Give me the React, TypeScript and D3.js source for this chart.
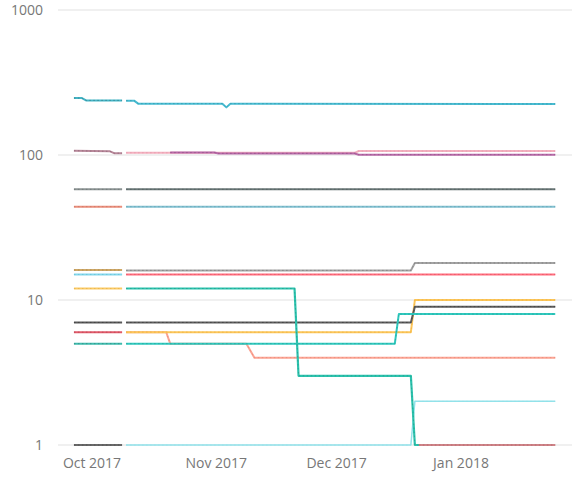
import React from "react";
import * as d3 from "d3";

type Pt = [string, number];

// y axis ticks (log scale) and x axis month ticks
const yTicks = [1, 10, 100, 1000];
const monthTicks = ["2017-10-01", "2017-11-01", "2017-12-01", "2018-01-01"];
const monthLabels = ["Oct 2017", "Nov 2017", "Dec 2017", "Jan 2018"];

// first block of series (late Sep -> Oct 8)
const tealA: Pt[] = [["2017-09-26", 247], ["2017-09-28", 247], ["2017-09-29", 238], ["2017-10-08", 238]];
const mauveA: Pt[] = [["2017-09-26", 107], ["2017-10-05", 106], ["2017-10-06", 103], ["2017-10-08", 103]];
const grayA: Pt[] = [["2017-09-26", 58], ["2017-10-08", 58]];
const salmonA: Pt[] = [["2017-09-26", 44], ["2017-10-08", 44]];
const goldA: Pt[] = [["2017-09-26", 16.1], ["2017-10-08", 16.1]];
const cyanA: Pt[] = [["2017-09-26", 15], ["2017-10-08", 15]];
const yellowA: Pt[] = [["2017-09-26", 12], ["2017-10-08", 12]];
const darkA: Pt[] = [["2017-09-26", 7], ["2017-10-08", 7]];
const redA: Pt[] = [["2017-09-26", 6], ["2017-10-08", 6]];
const greenA: Pt[] = [["2017-09-26", 5], ["2017-10-08", 5]];
const oneA: Pt[] = [["2017-09-26", 1], ["2017-10-08", 1]];

// second block (Oct 9 -> Jan 24)
const tealB: Pt[] = [
  ["2017-10-09", 237], ["2017-10-11", 237], ["2017-10-12", 226], ["2017-11-02", 226],
  ["2017-11-03", 213], ["2017-11-04", 226], ["2018-01-24", 225],
];
const pinkB: Pt[] = [["2017-10-09", 103.5], ["2017-12-05", 103.5], ["2017-12-06", 106.5], ["2018-01-24", 106.5]];
const purpleB: Pt[] = [
  ["2017-10-20", 104], ["2017-10-31", 104], ["2017-11-01", 102.5], ["2017-12-05", 102.5],
  ["2017-12-06", 100.5], ["2018-01-24", 100.5],
];
const grayB: Pt[] = [["2017-10-09", 58], ["2018-01-24", 58]];
const steelB: Pt[] = [["2017-10-09", 44], ["2018-01-24", 44]];
const silverB: Pt[] = [["2017-10-09", 16], ["2017-12-19", 16], ["2017-12-20", 18], ["2018-01-24", 18]];
const redB: Pt[] = [["2017-10-09", 15], ["2018-01-24", 15]];
const darkB: Pt[] = [["2017-10-09", 7], ["2017-12-19", 7], ["2017-12-20", 9], ["2018-01-24", 9]];
const yellowB: Pt[] = [["2017-10-09", 6], ["2017-12-19", 6], ["2017-12-20", 10], ["2018-01-24", 10]];
const salmonB: Pt[] = [
  ["2017-10-09", 6], ["2017-10-19", 6], ["2017-10-20", 5], ["2017-11-08", 5],
  ["2017-11-10", 4], ["2018-01-24", 4],
];
const greenB: Pt[] = [["2017-10-09", 5], ["2017-12-15", 5], ["2017-12-16", 8], ["2018-01-24", 8]];
const cyanB: Pt[] = [["2017-10-09", 1], ["2017-12-19", 1], ["2017-12-20", 2], ["2018-01-24", 2]];
const tealDrop: Pt[] = [
  ["2017-10-09", 12], ["2017-11-20", 12], ["2017-11-21", 3], ["2017-12-19", 3],
  ["2017-12-20", 1], ["2017-12-21", 1],
];
const brownB: Pt[] = [["2017-12-21", 1], ["2018-01-24", 1]];

// drawing order + styles
const seriesList: { data: Pt[]; color: string; dot: string; w: number }[] = [
  { data: oneA, color: "#6a6a6a", dot: "#444", w: 2 },
  { data: cyanB, color: "#92e2ea", dot: "#92e2ea", w: 1.5 },
  { data: brownB, color: "#cf8488", dot: "#a85a60", w: 2 },
  { data: greenA, color: "#3fbcae", dot: "#2a7c72", w: 2 },
  { data: redA, color: "#e25a6a", dot: "#a83a48", w: 2 },
  { data: darkA, color: "#5a5a5a", dot: "#333", w: 2 },
  { data: yellowA, color: "#fbcb66", dot: "#e0a840", w: 2 },
  { data: cyanA, color: "#86d8ec", dot: "#5ab8d0", w: 2 },
  { data: goldA, color: "#cfa868", dot: "#9a7a40", w: 2 },
  { data: salmonA, color: "#ea8f7c", dot: "#c06a58", w: 2 },
  { data: grayA, color: "#8c9494", dot: "#606868", w: 2 },
  { data: mauveA, color: "#b8889a", dot: "#805868", w: 2 },
  { data: tealA, color: "#45b5c6", dot: "#2a6f7a", w: 2 },
  { data: salmonB, color: "#fca595", dot: "#e07c6c", w: 2 },
  { data: yellowB, color: "#fcc65a", dot: "#e8a838", w: 2 },
  { data: darkB, color: "#5e5e5e", dot: "#333", w: 2 },
  { data: greenB, color: "#30c9be", dot: "#1f9a90", w: 2 },
  { data: redB, color: "#ff6e7e", dot: "#e04c5c", w: 2 },
  { data: silverB, color: "#a4a4a4", dot: "#6e6e6e", w: 2 },
  { data: steelB, color: "#82c0d0", dot: "#5a9aac", w: 2 },
  { data: grayB, color: "#687676", dot: "#485454", w: 2 },
  { data: pinkB, color: "#f3b0bf", dot: "#e090a4", w: 2 },
  { data: purpleB, color: "#b86aa8", dot: "#8a4a80", w: 2 },
  { data: tealB, color: "#48bcd2", dot: "#2a8a9c", w: 2 },
  { data: tealDrop, color: "#2cc3ae", dot: "#1e8f80", w: 2.2 },
];

const W = 578;
const H = 477;

export default function App() {
  const ref = React.useRef<SVGSVGElement>(null);

  React.useEffect(() => {
    const svg = d3.select(ref.current);
    svg.selectAll("*").remove();

    const parse = d3.timeParse("%Y-%m-%d");
    const x = d3
      .scaleTime()
      .domain([parse("2017-10-01")!, parse("2018-01-01")!])
      .range([94, 463]);
    const y = d3.scaleLog().domain([1, 1000]).range([445, 10]);

    // gridlines
    svg
      .append("g")
      .selectAll("line")
      .data(yTicks)
      .join("line")
      .attr("x1", 58)
      .attr("x2", 572)
      .attr("y1", (d) => y(d))
      .attr("y2", (d) => y(d))
      .attr("stroke", "#ebebeb")
      .attr("stroke-width", 1.5);

    // y labels
    svg
      .append("g")
      .selectAll("text")
      .data(yTicks)
      .join("text")
      .attr("x", 43)
      .attr("y", (d) => y(d))
      .attr("dy", "0.35em")
      .attr("text-anchor", "end")
      .attr("fill", "#777")
      .style("font", "14px 'Open Sans', sans-serif")
      .text((d) => String(d));

    // x labels
    svg
      .append("g")
      .selectAll("text")
      .data(monthTicks)
      .join("text")
      .attr("x", (d) => x(parse(d)!) - 2)
      .attr("y", 463)
      .attr("dy", "0.35em")
      .attr("text-anchor", "middle")
      .attr("fill", "#777")
      .style("font", "14px 'Open Sans', sans-serif")
      .text((_, i) => monthLabels[i]);

    const line = d3
      .line<Pt>()
      .x((d) => x(parse(d[0])!))
      .y((d) => y(d[1]));

    const g = svg.append("g");
    seriesList.forEach((s) => {
      g.append("path")
        .attr("d", line(s.data))
        .attr("fill", "none")
        .attr("stroke", s.color)
        .attr("stroke-width", s.w)
        .attr("stroke-linejoin", "round");
      // the daily markers give the lines a dotted texture
      g.append("path")
        .attr("d", line(s.data))
        .attr("fill", "none")
        .attr("stroke", s.dot)
        .attr("stroke-width", 1)
        .attr("stroke-opacity", 0.55)
        .attr("stroke-dasharray", "1.5 2.5");
    });
  }, []);

  return (
    <svg
      ref={ref}
      width={W}
      height={H}
      style={{ position: "absolute", left: 0, top: 0, display: "block", background: "#fff" }}
    />
  );
}
